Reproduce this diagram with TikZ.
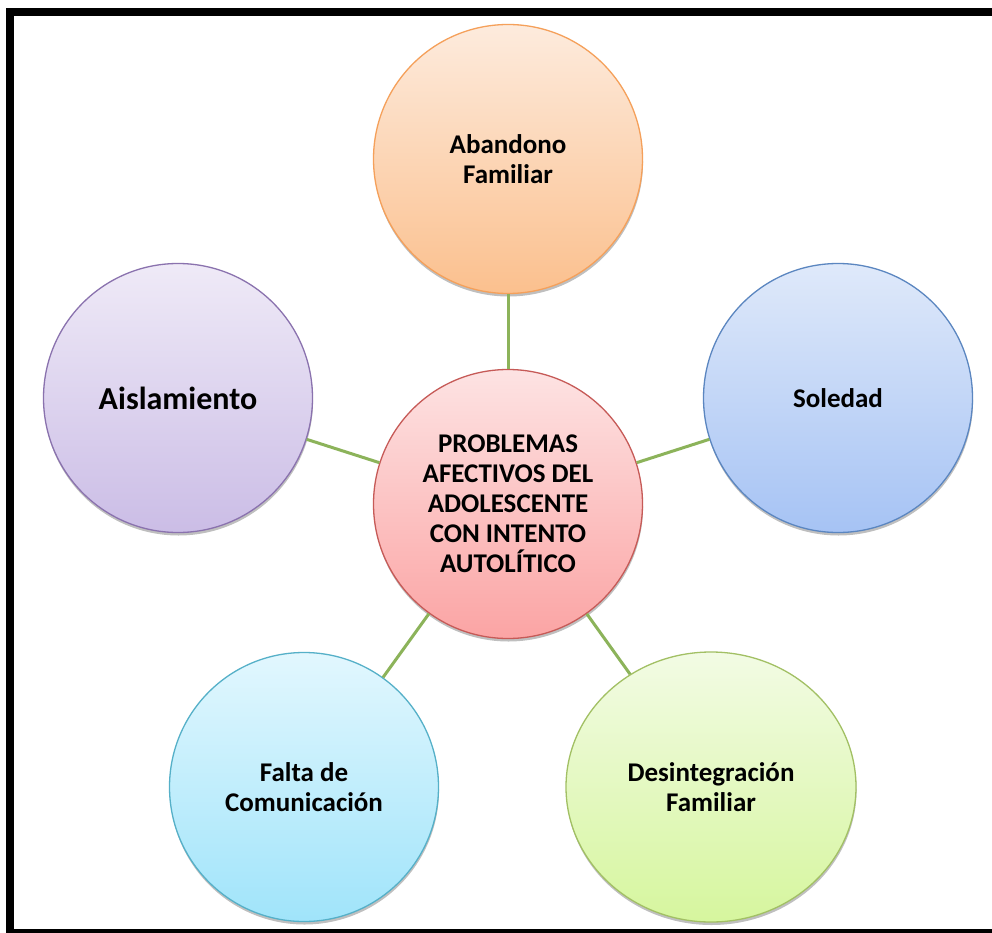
\documentclass[tikz,border=0pt]{standalone}
\usepackage{fontspec}
\setmainfont{Carlito}
\usetikzlibrary{shapes.geometric,shadows}
\definecolor{linkgreen}{HTML}{8CB35A}
\definecolor{orTop}{HTML}{FDEBDD}
\definecolor{orBot}{HTML}{FBC08E}
\definecolor{orBd}{HTML}{F5A05A}
\definecolor{puTop}{HTML}{EFEAF7}
\definecolor{puBot}{HTML}{CBBDE6}
\definecolor{puBd}{HTML}{8A72AE}
\definecolor{blTop}{HTML}{DFE9FA}
\definecolor{blBot}{HTML}{A6C3F4}
\definecolor{blBd}{HTML}{5B86C0}
\definecolor{reTop}{HTML}{FDE3E3}
\definecolor{reBot}{HTML}{FBA4A4}
\definecolor{reBd}{HTML}{C65A57}
\definecolor{cyTop}{HTML}{E2F7FE}
\definecolor{cyBot}{HTML}{A0E4FA}
\definecolor{cyBd}{HTML}{55B0C8}
\definecolor{grTop}{HTML}{F2FBE4}
\definecolor{grBot}{HTML}{D6F69E}
\definecolor{grBd}{HTML}{A2C064}
\tikzset{
  bubble/.style={circle, minimum size=269pt, inner sep=0pt, line width=1.3pt,
    align=center, font=\fontsize{27}{30}\selectfont\bfseries, text=black,
    drop shadow={shadow xshift=0.5pt, shadow yshift=-3pt, opacity=0.25, fill=black}},
  link/.style={draw=linkgreen, line width=3pt}
}
\begin{document}
\begin{tikzpicture}[x=1pt,y=-1pt]
\useasboundingbox (0,0) rectangle (992,933);
\fill[white] (0,0) rectangle (992,933);
% frame
\fill[black] (6,8) rectangle (992,16);
\fill[black] (6,8) rectangle (14,933);
\fill[black] (6,929) rectangle (992,933);
% nodes
\node[bubble, draw=orBd, top color=orTop, bottom color=orBot] (aban) at (508,159) {Abandono\\Familiar};
\node[bubble, draw=puBd, top color=puTop, bottom color=puBot, font=\fontsize{32}{36}\selectfont\bfseries] (aisl) at (178,398) {Aislamiento};
\node[bubble, draw=blBd, top color=blTop, bottom color=blBot] (sole) at (838,398) {Soledad};
\node[bubble, draw=reBd, top color=reTop, bottom color=reBot] (cent) at (508,504) {PROBLEMAS\\AFECTIVOS DEL\\ADOLESCENTE\\CON INTENTO\\AUTOLÍTICO};
\node[bubble, draw=cyBd, top color=cyTop, bottom color=cyBot] (falt) at (304,787) {Falta de\\Comunicación};
\node[bubble, ellipse, minimum width=290pt, minimum height=270pt, draw=grBd, top color=grTop, bottom color=grBot] (desi) at (711,787) {Desintegración\\Familiar};
% connectors
\draw[link] (cent) -- (aban);
\draw[link] (cent) -- (aisl);
\draw[link] (cent) -- (sole);
\draw[link] (cent) -- (falt);
\draw[link] (cent) -- (desi);
\end{tikzpicture}
\end{document}
